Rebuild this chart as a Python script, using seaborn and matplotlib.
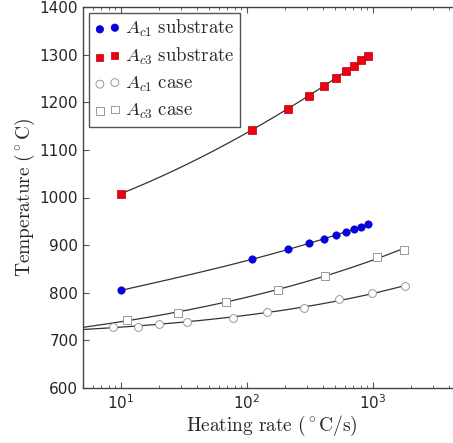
import numpy as np
import pandas as pd
import matplotlib
matplotlib.use('Agg')
import matplotlib.pyplot as plt
import seaborn as sns

# heating rate (C/s) and transformation temperatures (C)
rate_sub = [10, 110, 210, 310, 410, 510, 610, 710, 810, 910]
ac1_sub = [805, 870, 891, 904, 913, 921, 928, 934, 939, 944]
ac3_sub = [1008, 1142, 1186, 1214, 1235, 1251, 1265, 1276, 1288, 1297]

rate_ac1_case = [8.7, 13.6, 20.2, 33.5, 77, 145, 284, 537, 982, 1811]
ac1_case = [729, 729, 734, 739, 747, 759, 769, 786, 799, 814]

rate_ac3_case = [11.2, 28.4, 68, 175, 413, 1076, 1770]
ac3_case = [743, 758, 780, 805, 836, 876, 890]

sns.set_style('ticks')
plt.rcParams['mathtext.fontset'] = 'cm'
plt.rcParams['font.family'] = ['DejaVu Sans']


def fit_poly(x, y, x0, x1, deg=3):
    # smooth polynomial fit in log(rate)
    c = np.polyfit(np.log10(x), y, deg)
    xs = np.logspace(np.log10(x0), np.log10(x1), 200)
    return pd.DataFrame({'rate': xs, 'temp': np.polyval(c, np.log10(xs))})


def fit_power(x, y, x0, x1):
    # T = a + b * rate**p, p picked by least squares on a grid
    x = np.asarray(x, float)
    y = np.asarray(y, float)
    best = None
    for p in np.linspace(0.05, 1.0, 96):
        A = np.column_stack([np.ones_like(x), x ** p])
        coef, *_ = np.linalg.lstsq(A, y, rcond=None)
        err = np.sum((A @ coef - y) ** 2)
        if best is None or err < best[0]:
            best = (err, p, coef)
    _, p, (a, b) = best
    xs = np.logspace(np.log10(x0), np.log10(x1), 200)
    return pd.DataFrame({'rate': xs, 'temp': a + b * xs ** p})


fig = plt.figure(figsize=(4.53, 4.43), dpi=100)
ax = fig.add_axes([83 / 453, 1 - 388 / 443, 378 / 453, 381 / 443])

curves = [
    fit_poly(rate_sub, ac1_sub, rate_sub[0], rate_sub[-1]),
    fit_poly(rate_sub, ac3_sub, rate_sub[0], rate_sub[-1]),
    fit_power(rate_ac1_case, ac1_case, 5, rate_ac1_case[-1]),
    fit_power(rate_ac3_case, ac3_case, 5, rate_ac3_case[-1]),
]
for c in curves:
    sns.lineplot(data=c, x='rate', y='temp', ax=ax, color='#333333', lw=0.9,
                 estimator=None, sort=False, zorder=1)

sns.scatterplot(x=rate_sub, y=ac1_sub, ax=ax, marker='o', s=28, color='#0000ee',
                edgecolor='#0000aa', linewidth=0.5, label=r'$A_{c1}\ \mathrm{substrate}$', zorder=3)
sns.scatterplot(x=rate_sub, y=ac3_sub, ax=ax, marker='s', s=26, color='#ee0010',
                edgecolor='#b00010', linewidth=0.5, label=r'$A_{c3}\ \mathrm{substrate}$', zorder=3)
sns.scatterplot(x=rate_ac1_case, y=ac1_case, ax=ax, marker='o', s=32, facecolor='white',
                edgecolor='#999999', linewidth=0.7, label=r'$A_{c1}\ \mathrm{case}$', zorder=3)
sns.scatterplot(x=rate_ac3_case, y=ac3_case, ax=ax, marker='s', s=32, facecolor='white',
                edgecolor='#999999', linewidth=0.7, label=r'$A_{c3}\ \mathrm{case}$', zorder=3)

ax.set_xscale('log')
ax.set_xlim(5, 5000)
ax.set_ylim(600, 1400)
ax.set_yticks(range(600, 1401, 100))
ax.tick_params(which='both', direction='in', top=True, right=True, labelsize=11, color='#555555')
ax.tick_params(which='major', length=4)
ax.tick_params(which='minor', length=2)
for s in ax.spines.values():
    s.set_color('#444444')
    s.set_linewidth(1.0)
ax.spines['right'].set_visible(False)

ax.set_xlabel(r'$\mathrm{Heating\ rate\ (^\circ C/s)}$', fontsize=14, labelpad=2)
ax.set_ylabel(r'$\mathrm{Temperature\ (^\circ C)}$', fontsize=14, labelpad=2)

leg = ax.legend(loc='upper left', scatterpoints=2, fontsize=13.5, frameon=True, fancybox=False,
                borderpad=0.3, handletextpad=0.25, labelspacing=0.36, handlelength=1.4,
                borderaxespad=0.3)
leg.get_frame().set_edgecolor('#555555')
leg.get_frame().set_linewidth(1.0)
leg.get_frame().set_alpha(1.0)

fig.savefig('out.png', dpi=100)
